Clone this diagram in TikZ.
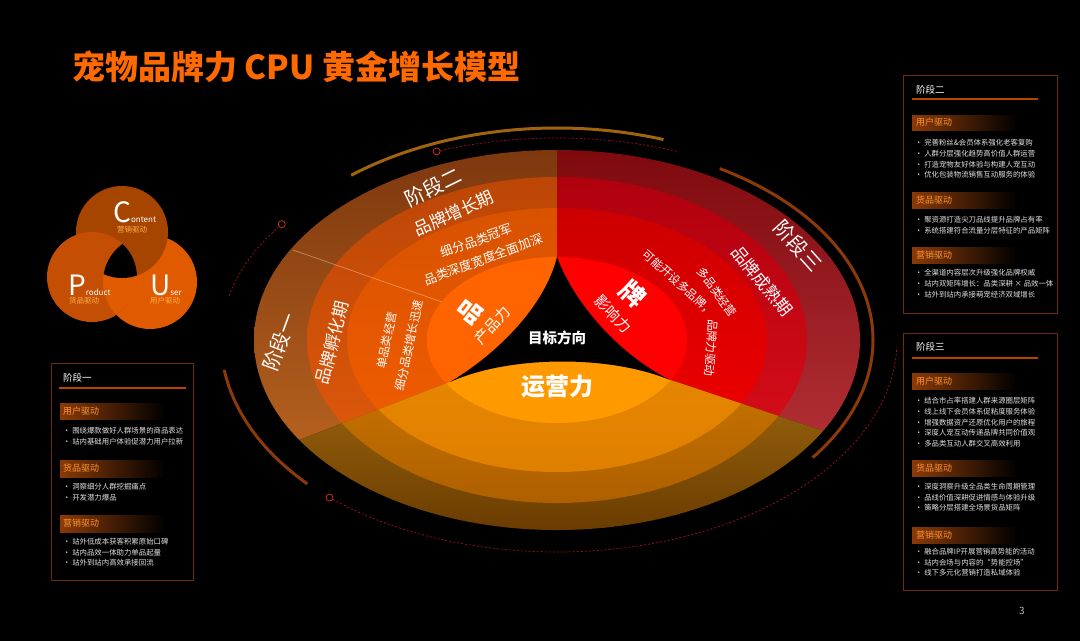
\documentclass[tikz,border=0pt]{standalone}
\usepackage{fontspec}
\setmainfont{Noto Sans CJK SC}
\usetikzlibrary{positioning}

\definecolor{titleorange}{HTML}{FF6A00}
\definecolor{boxbrown}{HTML}{6E2A0A}
\definecolor{lineorange}{HTML}{B84200}
\definecolor{barbrown}{HTML}{8A3A08}
\definecolor{drvorange}{HTML}{FF9530}
\definecolor{itemgrey}{HTML}{E2E2E2}
\definecolor{pagegrey}{HTML}{BBBBBB}
\definecolor{dashred}{HTML}{A8101A}
\definecolor{circred}{HTML}{C8301E}
\definecolor{arcbrown}{HTML}{8C3A08}
\definecolor{arcgold}{HTML}{A0640E}
\definecolor{vennC}{HTML}{A64500}
\definecolor{vennP}{HTML}{C44F04}
\definecolor{vennU}{HTML}{E05A00}
\definecolor{vennsub}{HTML}{FFB04A}
% left sector
\definecolor{lAt}{HTML}{7E380E}\definecolor{lAm}{HTML}{B8651F}\definecolor{lAb}{HTML}{C46C24}
\definecolor{lBt}{HTML}{BC4606}\definecolor{lBm}{HTML}{E0580C}\definecolor{lBb}{HTML}{E45C0C}
\definecolor{lCt}{HTML}{D85200}\definecolor{lCm}{HTML}{F05C00}\definecolor{lCb}{HTML}{F45E00}
\definecolor{lD}{HTML}{FF6400}
% right sector
\definecolor{rAt}{HTML}{7E0A0E}\definecolor{rAm}{HTML}{B33036}\definecolor{rAb}{HTML}{C03A40}
\definecolor{rBt}{HTML}{B0000E}\definecolor{rBm}{HTML}{DA0A16}\definecolor{rBb}{HTML}{E0101C}
\definecolor{rCt}{HTML}{CC0000}\definecolor{rCm}{HTML}{F00000}\definecolor{rCb}{HTML}{F40000}
\definecolor{rD}{HTML}{FF0000}
% bottom sector
\definecolor{yAt}{HTML}{E8A626}\definecolor{yAb}{HTML}{6A3C00}
\definecolor{yBt}{HTML}{F09200}\definecolor{yBb}{HTML}{AE6000}
\definecolor{yCt}{HTML}{F08E00}\definecolor{yCb}{HTML}{E08000}
\definecolor{yD}{HTML}{FF9900}

\tikzset{
  boxline/.style={draw=boxbrown, line width=0.9pt},
  stageline/.style={draw=lineorange, line width=1.6pt},
  stagetitle/.style={anchor=west, inner sep=0pt, text=white, font=\fontsize{9.5}{10}\selectfont},
  drivetext/.style={anchor=west, inner sep=0pt, text=drvorange, font=\fontsize{9}{10}\selectfont},
  itemtext/.style={anchor=west, inner sep=0pt, text=itemgrey, font=\fontsize{7.4}{8}\selectfont},
  ringtext/.style={text=white, inner sep=0pt, align=center},
  vennletter/.style={anchor=base west, inner sep=0pt, text=white},
  vennsubtext/.style={inner sep=0pt, text=vennsub, font=\fontsize{7.5}{8}\selectfont},
  decodash/.style={draw=dashred, line width=0.7pt, dash pattern=on 2pt off 2pt},
  decoring/.style={draw=circred, fill=black, line width=0.8pt},
}

\begin{document}
\begin{tikzpicture}[x=1pt,y=-1pt]
\useasboundingbox (0,0) rectangle (1080,641);
\fill[black] (0,0) rectangle (1080,641);

\node[anchor=west, inner sep=0pt, text=titleorange, font=\fontsize{33}{33}\selectfont\bfseries] (title) at (72,67) {宠物品牌力 CPU 黄金增长模型};

%Venn of C, P, U
\fill[vennU] (150,282) circle[radius=47];
\fill[vennC] (122,232) circle[radius=46];
\fill[vennP] (92,277) circle[radius=45];
\begin{scope}
\clip (92,277) circle[radius=45];
\fill[vennU] (150,282) circle[radius=47];
\end{scope}
\begin{scope}
\clip (92,277) circle[radius=45];
\clip (122,232) circle[radius=46];
\fill[black] (150,282) circle[radius=47];
\end{scope}
\node[vennletter] (vC) at (113,222) {\fontsize{28}{28}\selectfont C\fontsize{8}{8}\selectfont ontent};
\node[vennsubtext] (vCs) at (132,229.5) {营销驱动};
\node[vennletter] (vP) at (68,295) {\fontsize{28}{28}\selectfont P\fontsize{8}{8}\selectfont roduct};
\node[vennsubtext] (vPs) at (84,301) {货品驱动};
\node[vennletter] (vU) at (150,295) {\fontsize{28}{28}\selectfont U\fontsize{8}{8}\selectfont ser};
\node[vennsubtext] (vUs) at (165,301) {用户驱动};

%Sector: stage one and two
\begin{scope}
\clip (557,110) -- (557,335) -- (450,382) -- (200,478) -- (200,110) -- cycle;
\foreach \rx/\ry/\ct/\cm/\cb in {303/190/lAt/lAm/lAb, 250/163/lBt/lBm/lBb, 210/132/lCt/lCm/lCb, 130/83/lD/lD/lD}
  \shade[top color=\ct, middle color=\cm, bottom color=\cb] (557,340) ellipse [x radius=\rx, y radius=\ry];
\end{scope}
%Sector: stage three
\begin{scope}
\clip (557,110) -- (557,335) -- (670,380) -- (920,463) -- (920,110) -- cycle;
\foreach \rx/\ry/\ct/\cm/\cb in {303/190/rAt/rAm/rAb, 250/163/rBt/rBm/rBb, 210/132/rCt/rCm/rCb, 130/83/rD/rD/rD}
  \shade[top color=\ct, middle color=\cm, bottom color=\cb] (557,340) ellipse [x radius=\rx, y radius=\ry];
\end{scope}
%Sector: operations
\begin{scope}
\clip (200,478) -- (450,382) -- (557,335) -- (670,380) -- (920,463) -- (920,560) -- (200,560) -- cycle;
\foreach \rx/\ry/\ct/\cb in {303/190/yAt/yAb, 250/163/yBt/yBb, 210/132/yCt/yCb, 130/83/yD/yD}
  \shade[top color=\ct, middle color=\ct, bottom color=\cb] (557,340) ellipse [x radius=\rx, y radius=\ry];
\end{scope}
\draw[white!75!orange, opacity=0.45, line width=0.7pt] (293,250) -- (442,302);
%centre
\fill[black] (557,257) .. controls (545,305) and (500,352) .. (450,382)
  .. controls (510,355) and (610,355) .. (670,380)
  .. controls (620,355) and (575,305) .. (557,257) -- cycle;

%Arcs round the ellipse
\draw[arcgold, line width=3pt] (557,340) ++(231:327 and 212) arc[start angle=231, end angle=289, x radius=327, y radius=212];
\draw[arcbrown, line width=3pt] (557,340) ++(301:316 and 200) arc[start angle=301, end angle=396, x radius=316, y radius=200];
\draw[arcbrown, line width=3pt] (557,340) ++(172:336 and 215) arc[start angle=172, end angle=138, x radius=336, y radius=215];
\draw[decodash] (557,340) ++(249:336 and 202) arc[start angle=249, end angle=291, x radius=336, y radius=202];
\draw[decodash] (557,340) ++(215:336 and 202) arc[start angle=215, end angle=192, x radius=336, y radius=202];
\draw[decodash] (557,340) ++(132:340 and 212) arc[start angle=132, end angle=2, x radius=340, y radius=212];
\foreach \a in {249,215}
  \draw[decoring] (557,340) ++(\a:336 and 202) circle[radius=3.5pt];
\draw[decoring] (557,340) ++(132:340 and 212) circle[radius=3.5pt];

%Texts in the rings
\node[ringtext, font=\fontsize{20}{20}\selectfont, rotate=26] (st2) at (433,187) {阶段二};
\node[ringtext, font=\fontsize{17}{17}\selectfont, rotate=24] (pd2) at (454,213) {品牌增长期};
\node[ringtext, font=\fontsize{12.5}{20}\selectfont, rotate=20] (dt2) at (480,250) {细分品类冠军\\品类深度宽度全面加深};
\node[ringtext, font=\fontsize{20}{20}\selectfont, rotate=70] (st1) at (280,342) {阶段一};
\node[ringtext, font=\fontsize{17}{17}\selectfont, rotate=76] (pd1) at (332,343) {品牌孵化期};
\node[ringtext, font=\fontsize{11.5}{23}\selectfont, rotate=78] (dt1) at (398,343) {单品类经营\\细分品类增长迅速};
\node[ringtext, font=\fontsize{24}{24}\selectfont\bfseries, rotate=52] (pin) at (470,312) {品};
\node[ringtext, font=\fontsize{15}{15}\selectfont, rotate=48] (pinl) at (492,325) {产品力};
\node[ringtext, font=\fontsize{20}{20}\selectfont, rotate=-48] (st3) at (798,246) {阶段三};
\node[ringtext, font=\fontsize{17}{17}\selectfont, rotate=-51] (pd3) at (762,281) {品牌成熟期};
\node[ringtext, font=\fontsize{11.5}{12}\selectfont, rotate=-53] (dt3a) at (717,292) {多品类经营};
\node[ringtext, font=\fontsize{11.5}{12}\selectfont, rotate=-42] (dt3b) at (679,283) {可能开设多品牌，};
\node[ringtext, font=\fontsize{11.5}{12}\selectfont, rotate=-94] (dt3c) at (711,348) {品牌力驱动};
\node[ringtext, font=\fontsize{25}{25}\selectfont\bfseries, rotate=-42] (pai) at (633,294) {牌};
\node[ringtext, font=\fontsize{15}{15}\selectfont, rotate=-46] (pail) at (613,314) {影响力};
\node[ringtext, font=\fontsize{14.5}{15}\selectfont\bfseries] (goal) at (557,338) {目标方向};
\node[ringtext, font=\fontsize{24}{24}\selectfont\bfseries] (ops) at (557,387) {运营力};

%Stage one box
\draw[boxline] (51,363) rectangle (193,580);
\node[stagetitle] (s1) at (63,378) {阶段一};
\draw[stageline] (59,388) -- (186,388);
\shade[left color=barbrown, right color=black] (60,403) rectangle (165,419);
\node[drivetext] (s1u) at (63,411) {用户驱动};
\foreach \t [count=\i from 0] in {围绕爆款做好人群场景的商品表达, 站内基础用户体验促潜力用户拉新}
  \node[itemtext] (s1u\i) at (63,{431+10.5*\i}) {• \t};
\shade[left color=barbrown, right color=black] (60,460) rectangle (165,477);
\node[drivetext] (s1p) at (63,468.5) {货品驱动};
\foreach \t [count=\i from 0] in {洞察细分人群挖掘痛点, 开发潜力爆品}
  \node[itemtext] (s1p\i) at (63,{487+10.5*\i}) {• \t};
\shade[left color=barbrown, right color=black] (60,515) rectangle (165,532);
\node[drivetext] (s1c) at (63,523.5) {营销驱动};
\foreach \t [count=\i from 0] in {站外低成本获客积累原始口碑, 站内品效一体助力单品起量, 站外到站内高效承接回流}
  \node[itemtext] (s1c\i) at (63,{542+10.5*\i}) {• \t};

%Stage two box
\draw[boxline] (903,75) rectangle (1057,313);
\node[stagetitle] (s2) at (916,90) {阶段二};
\draw[stageline] (912,99) -- (1038,99);
\shade[left color=barbrown, right color=black] (912,115) rectangle (1017,130);
\node[drivetext] (s2u) at (916,122.5) {用户驱动};
\foreach \t [count=\i from 0] in {完善粉丝\&会员体系强化老客复购, 人群分层强化趋势高价值人群运营, 打造宠物友好体验与构建人宠互动, 优化包装物流销售互动服务的体验}
  \node[itemtext] (s2u\i) at (915,{143+10.6*\i}) {• \t};
\shade[left color=barbrown, right color=black] (912,192) rectangle (1017,208);
\node[drivetext] (s2p) at (916,200) {货品驱动};
\foreach \t [count=\i from 0] in {聚资源打造尖刀品线提升品牌占有率, 系统搭建符合流量分层特征的产品矩阵}
  \node[itemtext] (s2p\i) at (915,{220+10.6*\i}) {• \t};
\shade[left color=barbrown, right color=black] (912,247) rectangle (1017,263);
\node[drivetext] (s2c) at (916,255) {营销驱动};
\foreach \t [count=\i from 0] in {全渠道内容层次升级强化品牌权威, 站内双矩阵增长：品类深耕 × 品效一体, 站外到站内承接萌宠经济双域增长}
  \node[itemtext] (s2c\i) at (915,{273+10.8*\i}) {• \t};

%Stage three box
\draw[boxline] (903,333) rectangle (1057,590);
\node[stagetitle] (s3) at (916,347) {阶段三};
\draw[stageline] (912,358) -- (1038,358);
\shade[left color=barbrown, right color=black] (912,373) rectangle (1017,389);
\node[drivetext] (s3u) at (916,381) {用户驱动};
\foreach \t [count=\i from 0] in {结合市占率搭建人群来源圈层矩阵, 线上线下会员体系促粘度服务体验, 增强数据资产还原优化用户的旅程, 深度人宠互动传递品牌共同价值观, 多品类互动人群交叉高效利用}
  \node[itemtext] (s3u\i) at (915,{401+10.7*\i}) {• \t};
\shade[left color=barbrown, right color=black] (912,460) rectangle (1017,476);
\node[drivetext] (s3p) at (916,468) {货品驱动};
\foreach \t [count=\i from 0] in {深度洞察升级全品类生命周期管理, 品线价值深耕促进情感与体验升级, 策略分层搭建全场景货品矩阵}
  \node[itemtext] (s3p\i) at (915,{487+10.5*\i}) {• \t};
\shade[left color=barbrown, right color=black] (912,527) rectangle (1017,543);
\node[drivetext] (s3c) at (916,535) {营销驱动};
\foreach \t [count=\i from 0] in {融合品牌IP开展营销高势能的活动, 站内会场与内容的“势能控场”, 线下多元化营销打造私域体验}
  \node[itemtext] (s3c\i) at (915,{552+10.5*\i}) {• \t};

\node[text=pagegrey, inner sep=0pt, font=\fontsize{10}{10}\selectfont] (pnum) at (1022,611) {3};
\end{tikzpicture}
\end{document}
